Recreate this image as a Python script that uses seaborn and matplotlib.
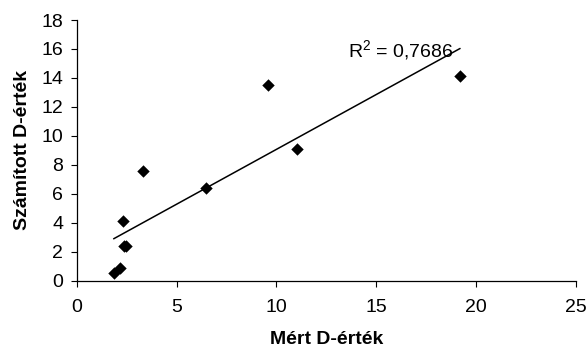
import numpy as np
import pandas as pd
import matplotlib
matplotlib.use("Agg")
import matplotlib.pyplot as plt
import seaborn as sns

measured = [1.85, 2.15, 2.3, 2.37, 2.45, 3.3, 6.5, 9.6, 11.05, 19.2]
calculated = [0.5, 0.85, 4.1, 2.4, 2.4, 7.6, 6.4, 13.5, 9.1, 14.1]
x_ticks = [0, 5, 10, 15, 20, 25]
y_ticks = [0, 2, 4, 6, 8, 10, 12, 14, 16, 18]
x_label = "Mért D-érték"
y_label = "Számított D-érték"
r2_label = r"R$^2$ = 0,7686"

df = pd.DataFrame({"x": measured, "y": calculated})

sns.set_theme(style="white")
plt.rcParams["font.family"] = ["Liberation Sans", "DejaVu Sans"]
plt.rcParams["mathtext.fontset"] = "custom"
plt.rcParams["mathtext.rm"] = "Liberation Sans"
plt.rcParams["mathtext.it"] = "Liberation Sans"
plt.rcParams["mathtext.bf"] = "Liberation Sans:bold"

fig = plt.figure(figsize=(5.87, 3.51), dpi=100)
ax = fig.add_axes([0.1307, 0.2003, 0.8503, 0.7427])

sns.regplot(data=df, x="x", y="y", scatter=False, ci=None, truncate=True,
            line_kws={"color": "black", "lw": 1.1}, ax=ax)
sns.scatterplot(data=df, x="x", y="y", marker="D", color="black", s=40,
                edgecolor="black", linewidth=0, ax=ax, zorder=3)

ax.set_xlim(0, 25)
ax.set_ylim(0, 18)
ax.set_xticks(x_ticks)
ax.set_yticks(y_ticks)
ax.tick_params(axis="both", direction="out", length=4.3, width=0.8, color="black",
               labelsize=14, labelcolor="black", left=True, bottom=True)
ax.tick_params(axis="x", pad=9.0)
ax.tick_params(axis="y", pad=5.5)
for s in ["top", "right"]:
    ax.spines[s].set_visible(False)
for s in ["left", "bottom"]:
    ax.spines[s].set_color("black")
    ax.spines[s].set_linewidth(0.9)

ax.set_xlabel(x_label, fontsize=14, fontweight="bold", color="black")
ax.set_ylabel(y_label, fontsize=14, fontweight="bold", color="black")
ax.xaxis.label.set_va("center")
ax.yaxis.label.set_va("center")
ax.xaxis.set_label_coords(0.5, -(340 - 280.7) / 260.7)
ax.yaxis.set_label_coords(-(76.7 - 22.5) / 499.3, 0.5)

ax.text(13.6, 15.5, r2_label, fontsize=14, color="black", ha="left", va="baseline")

fig.savefig("out.png", dpi=100)
